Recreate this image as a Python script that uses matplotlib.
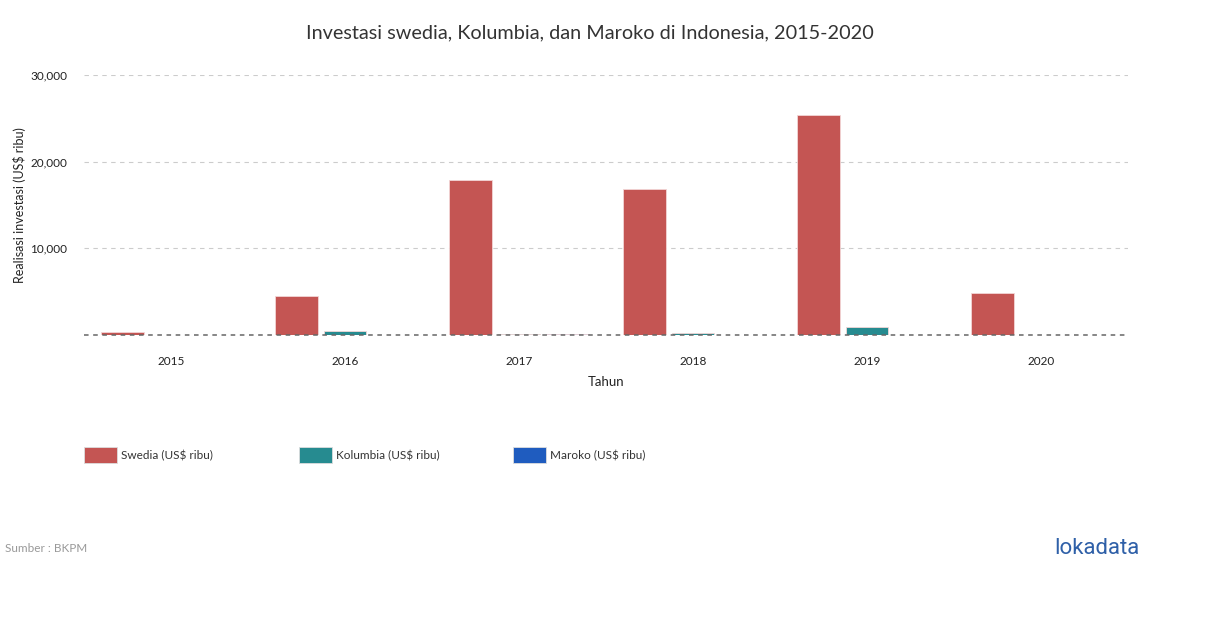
import matplotlib.pyplot as plt
from matplotlib.patches import Rectangle
from matplotlib.ticker import FuncFormatter
import numpy as np

plt.rcParams['font.family'] = ['Lato', 'DejaVu Sans']

# data (US$ ribu)
tahun = ['2015', '2016', '2017', '2018', '2019', '2020']
swedia = [350, 4500, 17900, 16850, 25400, 4850]
kolumbia = [0, 450, 100, 200, 950, 0]
maroko = [0, 0, 100, 0, 0, 0]
seri = ['Swedia (US$ ribu)', 'Kolumbia (US$ ribu)', 'Maroko (US$ ribu)']
warna = ['#c45553', '#268b90', '#1f5cbf']

W, H = 1210, 628
fig = plt.figure(figsize=(W / 100, H / 100), dpi=100)
ax = fig.add_axes([84 / W, (H - 335) / H, (1128 - 84) / W, 260 / H])

x = np.arange(len(tahun))
pitch = 0.277
lebar = 0.245
for i, (vals, c) in enumerate(zip([swedia, kolumbia, maroko], warna)):
    ax.bar(x + (i - 1) * pitch, vals, width=lebar, color=c,
           edgecolor='#f2d6d6', linewidth=0.6, zorder=3)

ax.set_xlim(-0.5, len(tahun) - 0.5)
ax.set_ylim(0, 30000)
ax.set_yticks([10000, 20000, 30000])
ax.yaxis.set_major_formatter(FuncFormatter(lambda v, p: f'{int(v):,}'))
ax.set_xticks(x)
ax.set_xticklabels(tahun)
ax.tick_params(length=0, labelsize=8.5, colors='#222222')
ax.tick_params(axis='x', pad=15)
ax.tick_params(axis='y', pad=12)

ax.grid(axis='y', linestyle=(0, (4, 4)), color='#cccccc', linewidth=0.8, zorder=0)
ax.axhline(0, linestyle=(0, (3, 3)), color='#666666', linewidth=1.1, zorder=4, clip_on=False)
for s in ax.spines.values():
    s.set_visible(False)

ax.set_xlabel('Tahun', fontsize=9.5, color='#222222')
ax.set_ylabel('Realisasi investasi (US$ ribu)', fontsize=9, color='#222222')
ax.xaxis.set_label_coords(0.5, (335 - 382) / 260, transform=ax.transAxes)
ax.xaxis.label.set_va('center')
ax.yaxis.set_label_coords((20 - 84) / 1044, 0.5, transform=ax.transAxes)
ax.yaxis.label.set_va('center')

fig.text(590 / W, 1 - 33 / H, 'Investasi swedia, Kolumbia, dan Maroko di Indonesia, 2015-2020',
         ha='center', va='center', fontsize=14.3, color='#333333')

# legend
for i, (nama, c) in enumerate(zip(seri, warna)):
    x0 = 84 + i * 214.5
    fig.add_artist(Rectangle((x0 / W, 1 - 463 / H), 33 / W, 16 / H,
                             transform=fig.transFigure, facecolor=c,
                             edgecolor='#dddddd', linewidth=0.6))
    fig.text((x0 + 37) / W, 1 - 456 / H, nama, ha='left', va='center',
             fontsize=8.5, color='#333333')

fig.text(5 / W, 1 - 548 / H, 'Sumber : BKPM', ha='left', va='center',
         fontsize=8.5, color='#999999')
fig.text(1140 / W, 1 - 549 / H, 'lokadata', ha='right', va='center',
         fontsize=16, color='#2f60a8', family=['Roboto', 'DejaVu Sans'])

fig.savefig('out.png', dpi=100)
